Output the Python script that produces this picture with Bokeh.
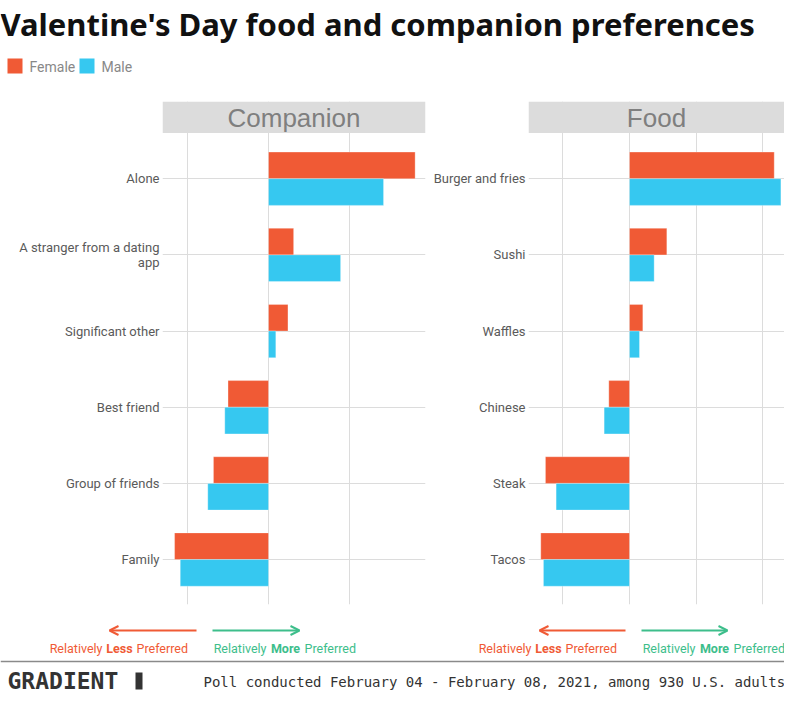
from bokeh.plotting import figure
from bokeh.layouts import column, row
from bokeh.models import (Range1d, FixedTicker, BoxAnnotation, Label, Arrow,
                          OpenHead, ColumnDataSource)
from bokeh.embed import file_html
from bokeh.resources import INLINE
from bokeh.core.properties import value
import numpy as np

# ---------------- data (relative preference index, grid unit = 1) -------------
companion_cats = ["Alone", "A stranger from a dating\napp", "Significant other",
                  "Best friend", "Group of friends", "Family"]
companion_female = [1.81, 0.31, 0.24, -0.50, -0.68, -1.16]
companion_male = [1.42, 0.89, 0.09, -0.54, -0.75, -1.09]

food_cats = ["Burger and fries", "Sushi", "Waffles", "Chinese", "Steak", "Tacos"]
food_female = [2.17, 0.56, 0.20, -0.31, -1.26, -1.33]
food_male = [2.27, 0.37, 0.15, -0.38, -1.10, -1.29]

companion_ticks = [-1, 0, 1]
food_ticks = [-1, 0, 1, 2]

FEMALE = "#F05A35"
MALE = "#36C8F0"
GREEN = "#3DBE8B"
GRID = "#DCDCDC"
STRIP = "#DCDCDC"
LABEL_FONT = "Roboto"


def panel(title, cats, female, male, xr, ticks, width, border_left, border_right):
    n = len(cats)
    idx = np.arange(n)
    p = figure(width=width, height=518, output_backend="svg", toolbar_location=None,
               x_range=Range1d(*xr), y_range=Range1d(n - 1 + 0.59, -1.014),
               min_border_left=border_left, min_border_right=border_right,
               min_border_top=5, min_border_bottom=10)
    p.outline_line_color = None
    p.background_fill_color = "white"
    p.xaxis.visible = False
    p.xgrid.ticker = FixedTicker(ticks=ticks)
    p.ygrid.ticker = FixedTicker(ticks=list(range(n)))
    p.xgrid.grid_line_color = GRID
    p.ygrid.grid_line_color = GRID
    p.xgrid.grid_line_width = 1
    p.ygrid.grid_line_width = 1

    ax = p.yaxis[0]
    ax.ticker = FixedTicker(ticks=list(range(n)))
    ax.major_label_overrides = {i: c for i, c in enumerate(cats)}
    ax.axis_line_color = None
    ax.major_tick_line_color = None
    ax.minor_tick_line_color = None
    ax.major_tick_out = 0
    ax.major_label_standoff = 3
    ax.major_label_text_font = LABEL_FONT
    ax.major_label_text_font_size = "13px"
    ax.major_label_text_color = "#5A5A5A"
    ax.major_label_text_line_height = 1.0

    src = ColumnDataSource(dict(yf=idx - 0.175, ym=idx + 0.175, f=female, m=male))
    p.hbar(y="yf", height=0.35, left=0, right="f", source=src, fill_color=FEMALE,
           line_color="white", line_width=0.6, line_alpha=0.5)
    p.hbar(y="ym", height=0.35, left=0, right="m", source=src, fill_color=MALE,
           line_color="white", line_width=0.6, line_alpha=0.5)

    p.add_layout(BoxAnnotation(top=-1.014, bottom=-0.6, fill_color=STRIP, fill_alpha=1,
                               line_color=None))
    p.add_layout(Label(x=(xr[0] + xr[1]) / 2, y=-0.80, text=title, text_align="center",
                       text_baseline="middle", text_font="Liberation Sans",
                       text_font_size="26px", text_color="#7F7F7F"))
    return p


p1 = panel("Companion", companion_cats, companion_female, companion_male,
           (-1.309, 1.938), companion_ticks, 428, 162, 3)
p2 = panel("Food", food_cats, food_female, food_male,
           (-1.514, 2.324), food_ticks, 356, 100, 0)


def blank(height, x0, x1, y0, y1):
    f = figure(width=784, height=height, output_backend="svg", toolbar_location=None,
               x_range=Range1d(x0, x1), y_range=Range1d(y1, y0), min_border=0)
    f.axis.visible = False
    f.grid.visible = False
    f.outline_line_color = None
    return f

# ---------------- header ----------------
head = blank(96, 0, 784, 4, 100)
head.text(x=[0], y=[27], text=["Valentine's Day food and companion preferences"],
          text_font=value("Noto Sans"), text_font_style="bold", text_font_size="31px",
          text_color="#111111", text_baseline="alphabetic")
head.rect(x=[14.5, 86.5], y=[69.5, 69.5], width=15, height=15,
          fill_color=[FEMALE, MALE], line_color=None)
head.text(x=[29, 101], y=[70, 70], text=["Female", "Male"], text_font=value(LABEL_FONT),
          text_font_size="14px", text_color="#888888", text_baseline="middle")

# ---------------- footer ----------------
foot = blank(81, 8, 792, 618, 699)
arrows = [(204, 117, FEMALE), (220, 307, GREEN), (633, 547, FEMALE), (649, 735, GREEN)]
for xs, xe, col in arrows:
    foot.add_layout(Arrow(x_start=xs, x_end=xe, y_start=634, y_end=634,
                          line_color=col, line_width=2,
                          end=OpenHead(size=9, line_color=col, line_width=2)))

# mixed weight captions: (center of bold word, bold word, colour)
captions = [(127, "Less", FEMALE), (293, "More", GREEN),
            (556, "Less", FEMALE), (722, "More", GREEN)]
for cx, word, col in captions:
    half = 14 if word == "Less" else 16
    foot.text(x=[cx - half - 3], y=[652], text=["Relatively"], text_align="right",
              text_baseline="middle", text_font=value(LABEL_FONT), text_font_size="12.5px",
              text_color=col)
    foot.text(x=[cx], y=[652], text=[word], text_align="center",
              text_baseline="middle", text_font=value(LABEL_FONT), text_font_size="12.5px",
              text_font_style="bold", text_color=col)
    foot.text(x=[cx + half + 3], y=[652], text=["Preferred"], text_align="left",
              text_baseline="middle", text_font=value(LABEL_FONT), text_font_size="12.5px",
              text_color=col)

foot.segment(x0=[8], x1=[792], y0=[665], y1=[665], line_color="#8A8A8A", line_width=1.5)
foot.text(x=[15], y=[684], text=["GRADIENT"], text_font=value("DejaVu Sans Mono"),
          text_font_style="bold", text_font_size="23px", text_color="#333333",
          text_baseline="middle")
foot.quad(left=[143], right=[150], top=[676], bottom=[693], fill_color="#333333",
          line_color=None)
foot.text(x=[211], y=[685], text=["Poll conducted February 04 - February 08, 2021, among 930 U.S. adults"],
          text_font=value("DejaVu Sans Mono"), text_font_size="14px", text_color="#333333",
          text_baseline="middle")

layout = column(head, row(p1, p2), foot)
open("out.html", "w").write(file_html(layout, INLINE))
